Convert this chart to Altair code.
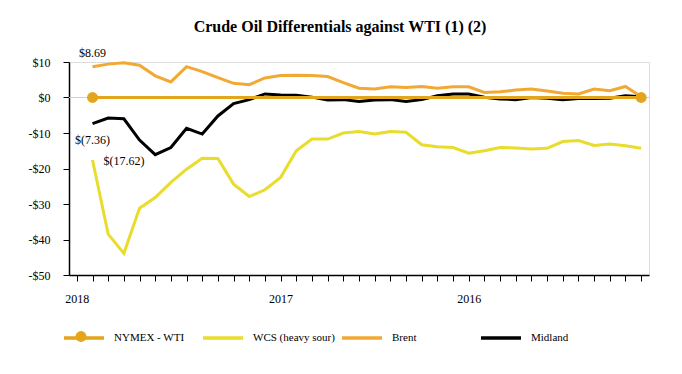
import altair as alt
import pandas as pd

# ---- data ----
months = list(range(1, 37))  # monthly positions, most recent on the left
wti = [0.0] * 36
wcs = [-17.62, -38.5, -43.9, -31.2, -28.2, -23.9, -20.2, -17.1, -17.2, -24.4, -27.9, -26.0,
       -22.5, -15.0, -11.7, -11.7, -10.0, -9.6, -10.3, -9.6, -9.8, -13.3, -13.9, -14.1,
       -15.7, -15.0, -14.1, -14.2, -14.5, -14.3, -12.4, -12.1, -13.5, -13.1, -13.6, -14.3]
brent = [8.69, 9.4, 9.8, 9.1, 6.1, 4.4, 8.7, 7.3, 5.6, 4.0, 3.6, 5.5,
         6.2, 6.3, 6.2, 5.9, 4.2, 2.6, 2.4, 3.0, 2.8, 3.1, 2.6, 3.0,
         3.0, 1.4, 1.6, 2.1, 2.4, 1.8, 1.2, 1.0, 2.4, 1.9, 3.1, 0.2]
midland = [-7.36, -5.8, -6.0, -12.0, -16.1, -14.1, -8.7, -10.3, -5.2, -1.7, -0.6, 1.0,
           0.7, 0.6, 0.1, -0.7, -0.6, -1.1, -0.7, -0.6, -1.1, -0.6, 0.5, 1.0,
           1.0, 0.1, -0.4, -0.6, 0.0, -0.2, -0.6, -0.3, -0.3, -0.2, 0.5, 0.2]

series_names = ["NYMEX - WTI", "WCS (heavy sour)", "Brent", "Midland"]
series_colors = ["#E3A51C", "#E8DC2C", "#F2A934", "#000000"]
year_ticks = [0, 13, 25]
year_labels = ["2018", "2017", "2016"]
ann_text = ["$8.69", "$(7.36)", "$(17.62)"]
ann_value = [8.69, -7.36, -17.62]

FONT = "Liberation Serif"

rows = []
for name, vals in zip(series_names, [wti, wcs, brent, midland]):
    for m, v in zip(months, vals):
        rows.append({"month": m, "value": v, "series": name})
df = pd.DataFrame(rows)

label_expr = " : ".join(
    f"datum.value == {t} ? '{l}'" for t, l in zip(year_ticks, year_labels)
) + " : ''"

x_enc = alt.X(
    "month:Q",
    scale=alt.Scale(domain=[-0.5, 36.5], nice=False, zero=False),
    axis=alt.Axis(
        values=list(range(0, 37)), labelExpr=label_expr, title=None, grid=False,
        tickSize=6, tickColor="#000", domainColor="#000", domainWidth=1.5,
        labelFont=FONT, labelFontSize=12, labelColor="#000", labelPadding=12,
        labelOverlap=False,
    ),
)
y_enc = alt.Y(
    "value:Q",
    scale=alt.Scale(domain=[-50, 10], nice=False),
    axis=alt.Axis(
        values=[10, 0, -10, -20, -30, -40, -50], title=None, grid=False,
        labelExpr="datum.value < 0 ? '-$' + abs(datum.value) : '$' + datum.value",
        tickSize=6, tickColor="#000", domainColor="#000", domainWidth=1.5,
        labelFont=FONT, labelFontSize=12, labelColor="#000", labelPadding=13,
        labelOverlap=False,
    ),
)

wti_color = series_colors[0]
LEG_X, LEG_Y = -7, 254

color_enc = alt.Color(
    "series:N",
    scale=alt.Scale(domain=series_names, range=series_colors),
    legend=alt.Legend(
        title=None, orient="none", legendX=LEG_X, legendY=LEG_Y, direction="horizontal",
        columns=4, columnPadding=0, gridAlign="all", symbolType="stroke",
        symbolSize=1600, symbolStrokeWidth=3.5, labelFont=FONT, labelFontSize=11,
        labelColor="#000", labelOffset=8, labelLimit=200, padding=0,
    ),
)

base = alt.Chart(df)

zero_rule = alt.Chart(pd.DataFrame({"value": [0]})).mark_rule(color="#d0d0d0", strokeWidth=1).encode(y=y_enc)

def series_line(name):
    return base.transform_filter(alt.datum.series == name).mark_line(strokeWidth=3).encode(
        x=x_enc, y=y_enc, color=color_enc)

mid = series_line("Midland")
wcs_l = series_line("WCS (heavy sour)")
brent_l = series_line("Brent")
wti_l = series_line("NYMEX - WTI")

# end-point dots of the WTI line; their shape legend supplies the dot in the WTI legend entry
wti_pts = base.transform_filter(
    (alt.datum.series == "NYMEX - WTI") & ((alt.datum.month == months[0]) | (alt.datum.month == months[-1]))
).transform_calculate(key="'WTI dot'").mark_point(
    filled=True, size=120, opacity=1, color=wti_color
).encode(
    x=x_enc, y=y_enc,
    shape=alt.Shape("key:N", scale=alt.Scale(domain=["WTI dot"], range=["circle"]),
                    legend=alt.Legend(title=None, orient="none", legendX=LEG_X + 13.5, legendY=LEG_Y + 15,
                                      symbolSize=120, symbolFillColor=wti_color, symbolStrokeWidth=0,
                                      symbolOpacity=1, labelFontSize=1, labelOpacity=0, padding=0)),
)

ann_df = pd.DataFrame({"month": [months[0]] * 3, "value": ann_value, "text": ann_text})
ann_base = alt.Chart(ann_df)
t1 = ann_base.transform_filter(alt.datum.text == ann_text[0]).mark_text(
    font=FONT, fontSize=12, color="#000", align="center", baseline="middle", dy=-14
).encode(x=x_enc, y=y_enc, text="text:N")
t2 = ann_base.transform_filter(alt.datum.text == ann_text[1]).mark_text(
    font=FONT, fontSize=12, color="#000", align="center", baseline="middle", dy=16
).encode(x=x_enc, y=y_enc, text="text:N")
t3 = ann_base.transform_filter(alt.datum.text == ann_text[2]).mark_text(
    font=FONT, fontSize=12, color="#000", align="left", baseline="middle", dx=11, dy=1
).encode(x=x_enc, y=y_enc, text="text:N")

chart = alt.layer(zero_rule, mid, wcs_l, brent_l, wti_l, wti_pts, t1, t2, t3).properties(
    width=580, height=213,
    title=alt.TitleParams(
        "Crude Oil Differentials against WTI (1) (2)", font=FONT, fontSize=16,
        fontWeight="bold", color="#000", anchor="middle", dx=-19, offset=12,
    ),
    autosize=alt.AutoSizeParams(type="none"),
    padding={"left": 61, "top": 54, "right": 25, "bottom": 91},
).configure_view(stroke=None).configure(background="white", font=FONT).configure_legend(gridAlign="all")

chart.save("out.html", embed_options={"renderer": "svg", "actions": False})
